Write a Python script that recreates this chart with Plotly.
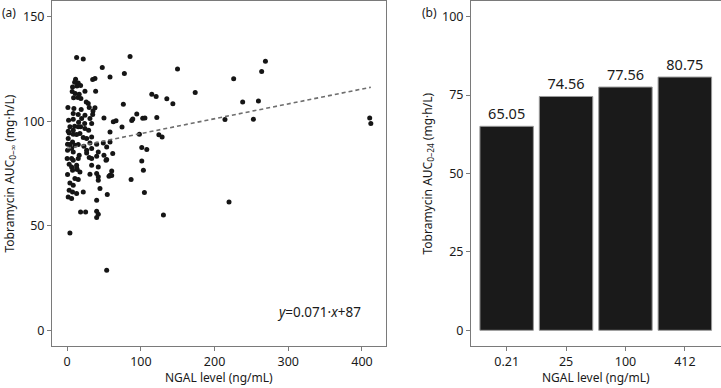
import plotly.graph_objects as go

# ---- Panel (a): scatter data (NGAL ng/mL, AUC0-inf mg.h/L) ----
ngal = [12.8, 21.8, 47.6, 85.3, 58.1, 77.6, 37.7, 34.6, 11.4, 10.1, 15.0, 7.3, 13.2, 18.2,
        6.8, 24.1, 38.6, 10.9, 16.3, 8.7, 14.6, 18.6, 25.9, 28.6, 76.2, 1.0, 9.1, 19.0, 29.9,
        35.0, 34.6, 1.9, 8.2, 15.5, 23.7, 30.9, 49.9, 62.6, 66.3, 74.4, 87.6, 94.4, 102.5,
        3.7, 10.1, 18.2, 29.1, 58.1, 2.7, 8.2, 17.3, 21.8, 33.2,
        0.5, 7.3, 15.0, 22.7, 30.9, 40.0, 49.0, 58.1, 101.2, 108.0, 0.5, 8.2, 16.3, 26.4,
        29.9, 33.2, 40.0, 49.9, 53.6, 61.8, 0.0, 6.0, 101.2, 2.7, 6.0, 12.8, 7.3, 13.6, 17.3,
        60.4, 103.4, 0.5, 10.5, 15.0, 30.9, 40.0, 42.2, 58.1, 86.7, 3.7, 8.2, 42.2, 2.7, 7.3,
        12.8, 21.8, 44.5, 54.4, 104.8, 1.4, 6.0, 40.0, 18.2, 25.0, 40.0, 42.2, 40.0, 3.7, 53.6,
        149.7, 269.0, 263.9, 225.9, 114.8, 120.7, 135.2, 143.4, 173.7, 238.1, 259.5, 89.0,
        105.5, 121.6, 98.0, 124.4, 128.8, 214.1, 252.7, 410.5, 412.0, 52.7, 56.7, 60.4,
        130.6, 219.6,
        37.7, 8.2, 15.0, 24.1, 19.6, 33.2, 15.0, 24.1, 1.4, 8.2, 12.8, 1.4, 26.4, 3.7, 10.5,
        6.0, 26.4, 33.2, 42.2, 53.6, 8.2, 15.0, 12.8, 33.2, 42.2]
auc_inf = [130.5, 129.8, 125.7, 131.0, 121.2, 122.8, 120.4, 120.0, 120.1, 118.7, 118.3, 116.4,
           116.9, 117.1, 114.2, 114.3, 114.3, 113.3, 112.9, 111.2, 111.3, 110.9, 109.2, 108.5,
           108.1, 106.6, 106.1, 105.6, 106.6, 104.9, 103.2, 100.5, 101.0, 99.5, 98.9, 101.3,
           101.6, 99.7, 100.2, 97.2, 100.3, 103.4, 101.4, 97.3, 97.6, 97.3, 95.7, 94.9, 94.4,
           93.8, 94.1, 92.2, 92.5,
           89.0, 90.1, 88.9, 88.0, 89.6, 89.0, 89.6, 90.1, 87.4, 86.5, 86.1, 85.3, 83.7, 84.8,
           82.6, 82.2, 83.3, 83.7, 81.7, 84.6, 82.2, 82.2, 81.0, 79.4, 78.1, 79.0, 76.6, 76.9,
           75.7, 76.2, 76.6, 74.5, 72.6, 72.1, 74.6, 75.0, 73.4, 74.2, 72.1, 70.5, 69.4, 71.8,
           67.0, 66.2, 65.4, 66.2, 67.8, 64.9, 65.9, 63.8, 63.0, 62.2, 56.6, 56.6, 56.9, 55.5,
           53.9, 46.6, 28.7,
           125.0, 128.7, 123.8, 120.3, 112.9, 111.8, 110.7, 108.3, 113.7, 109.2, 109.7, 101.1,
           101.6, 101.8, 93.8, 93.5, 92.5, 100.8, 101.0, 101.6, 98.9, 81.3, 73.7, 74.0,
           55.2, 61.4,
           106.4, 103.7, 103.2, 102.9, 101.3, 98.9, 97.3, 96.5, 95.2, 95.7, 93.6, 91.7, 91.7,
           88.9, 88.5, 86.9, 86.1, 86.9, 85.3, 87.7, 81.3, 82.2, 77.7, 79.0, 78.1]

fit_slope = 0.071
fit_intercept = 87
fit_x = [min(ngal), max(ngal)]

# ---- Panel (b): bar data ----
bar_categories = ["0.21", "25", "100", "412"]
auc_24 = [65.05, 74.56, 77.56, 80.75]

FONT = "Noto Sans"
AX = "#7a7a7a"
TXT = "#1a1a1a"

fig = go.Figure()

fig.add_trace(go.Scatter(
    x=ngal, y=auc_inf, mode="markers",
    marker=dict(size=5, color="#151515"),
    xaxis="x", yaxis="y", showlegend=False, hoverinfo="skip"))

fig.add_trace(go.Scatter(
    x=fit_x, y=[fit_intercept + fit_slope * v for v in fit_x], mode="lines",
    line=dict(color="#6e6e6e", width=1.6, dash="4px,3px"),
    xaxis="x", yaxis="y", showlegend=False, hoverinfo="skip"))

fig.add_trace(go.Bar(
    x=bar_categories, y=auc_24, width=0.9,
    marker=dict(color="#1a1a1a", line=dict(color="#9a9a9a", width=1)),
    text=[f"{v:.2f}" for v in auc_24], textposition="outside",
    textfont=dict(family=FONT, size=14.5, color=TXT), cliponaxis=False,
    xaxis="x2", yaxis="y2", showlegend=False, hoverinfo="skip"))

axis_common = dict(showgrid=False, zeroline=False, showline=True, linecolor=AX,
                   linewidth=1, mirror=True, ticks="outside", ticklen=4,
                   tickcolor=AX, tickfont=dict(family=FONT, size=12.5, color=TXT))

ydom = [1 - 346 / 388, 1 - 1 / 388]

fig.update_layout(
    width=721, height=388,
    margin=dict(l=0, r=0, t=0, b=0),
    paper_bgcolor="white", plot_bgcolor="white",
    font=dict(family=FONT, size=12, color=TXT),
    xaxis=dict(domain=[52 / 721, 386 / 721], range=[-20.6, 432.6],
               tickvals=[0, 100, 200, 300, 400], **axis_common),
    yaxis=dict(domain=ydom, range=[-7.5, 157.5], tickvals=[0, 50, 100, 150],
               anchor="x", **axis_common),
    xaxis2=dict(domain=[471 / 721, 720.5 / 721], range=[-0.6, 3.6],
                type="category", anchor="y2", **axis_common),
    yaxis2=dict(domain=ydom, range=[-5, 105], tickvals=[0, 25, 50, 75, 100],
                anchor="x2", **axis_common),
    bargap=0.1,
)

ann = [
    dict(text="(a)", x=0 / 721, y=1 - 12 / 388, xanchor="left", yanchor="middle"),
    dict(text="(b)", x=420 / 721, y=1 - 12 / 388, xanchor="left", yanchor="middle"),
    dict(text="Tobramycin AUC<sub>0–∞</sub> (mg·h/L)", x=9 / 721, y=1 - 173.5 / 388,
         textangle=-90, xanchor="center", yanchor="middle"),
    dict(text="Tobramycin AUC<sub>0–24</sub> (mg·h/L)", x=427 / 721, y=1 - 173.5 / 388,
         textangle=-90, xanchor="center", yanchor="middle"),
    dict(text="NGAL level (ng/mL)", x=219 / 721, y=1 - 377 / 388,
         xanchor="center", yanchor="middle"),
    dict(text="NGAL level (ng/mL)", x=596 / 721, y=1 - 377 / 388,
         xanchor="center", yanchor="middle"),
]
for a in ann:
    fig.add_annotation(xref="paper", yref="paper", showarrow=False,
                       font=dict(family=FONT, size=12, color=TXT), **a)

fig.add_annotation(xref="x", yref="y", x=401, y=8.6, xanchor="right", yanchor="middle",
                   text="<i>y</i>=0.071·<i>x</i>+87", showarrow=False,
                   font=dict(family=FONT, size=13.5, color=TXT))

fig.write_html("out.html", config={"displayModeBar": False},
               post_script="document.body.style.margin='0';")
